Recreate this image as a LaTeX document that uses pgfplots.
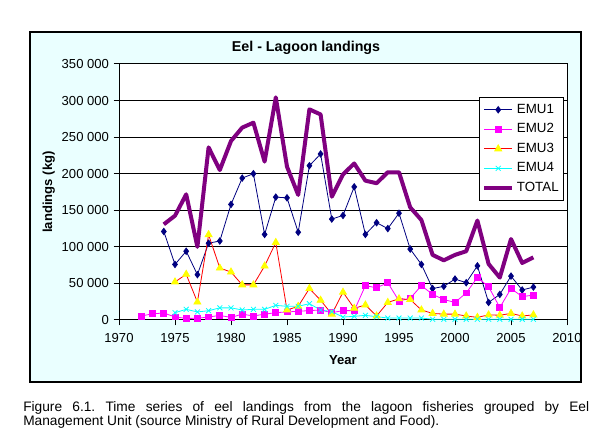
\documentclass[border=0pt]{standalone}
\usepackage{fontspec}
\setmainfont{Liberation Sans}
\usepackage{pgfplots}
\pgfplotsset{compat=1.18}
\definecolor{bgc}{RGB}{234,255,255}
\definecolor{navyc}{RGB}{0,0,128}
\definecolor{purp}{RGB}{128,0,128}
\definecolor{magc}{RGB}{255,0,255}
\definecolor{cyanc}{RGB}{0,255,255}
\definecolor{yelc}{RGB}{255,255,0}

\pgfplotstableread{
year val
1974 121000
1975 76000
1976 94000
1977 62000
1978 105000
1979 108000
1980 158000
1981 194000
1982 200000
1983 117000
1984 168000
1985 167000
1986 120000
1987 211000
1988 227000
1989 138000
1990 143000
1991 182000
1992 117000
1993 133000
1994 125000
1995 146000
1996 97000
1997 76000
1998 43000
1999 46000
2000 56000
2001 51000
2002 74000
2003 24000
2004 35000
2005 60000
2006 41000
2007 45000
}\emuone

\pgfplotstableread{
year val
1972 5500
1973 8500
1974 9500
1975 4200
1976 2200
1977 2300
1978 4200
1979 6200
1980 3500
1981 8000
1982 5500
1983 8000
1984 10000
1985 11000
1986 12000
1987 12800
1988 13700
1989 10000
1990 12800
1991 12800
1992 47000
1993 44000
1994 51000
1995 26000
1996 29600
1997 47000
1998 35000
1999 28000
2000 24000
2001 37000
2002 58000
2003 45600
2004 17000
2005 43000
2006 32000
2007 34000
}\emutwo

\pgfplotstableread{
year val
1975 52000
1976 62500
1977 24500
1978 116700
1979 71000
1980 65600
1981 48000
1982 48000
1983 73800
1984 106000
1985 13700
1986 18700
1987 43000
1988 27000
1989 8000
1990 38000
1991 16000
1992 20500
1993 5500
1994 24000
1995 29000
1996 28000
1997 13700
1998 9000
1999 8000
2000 8000
2001 5500
2002 3600
2003 7000
2004 6500
2005 9000
2006 5500
2007 7000
}\emuthree

\pgfplotstableread{
year val
1975 10000
1976 14600
1977 11000
1978 12700
1979 16600
1980 16600
1981 13700
1982 14600
1983 14600
1984 20000
1985 18700
1986 18700
1987 22300
1988 13700
1989 11400
1990 4000
1991 5000
1992 6400
1993 4500
1994 2700
1995 2700
1996 2700
1997 2700
1998 1000
1999 1000
2000 1000
2001 1000
2002 1000
2003 1000
2004 1000
2005 1000
2006 1000
2007 1000
}\emufour

\pgfplotstableread{
year val
1974 130800
1975 142600
1976 171800
1977 100000
1978 236000
1979 205000
1980 244700
1981 263000
1982 269800
1983 216500
1984 304400
1985 209600
1986 171000
1987 288000
1988 281000
1989 168600
1990 199000
1991 214000
1992 190500
1993 187000
1994 202000
1995 202000
1996 154000
1997 136700
1998 89000
1999 81600
2000 89000
2001 94000
2002 136000
2003 76600
2004 58000
2005 110700
2006 78000
2007 85700
}\total

\begin{document}
\frenchspacing
\begin{tikzpicture}[x=0.75pt,y=0.75pt]
\useasboundingbox (0,0) rectangle (608,440);
\fill[white] (0,0) rectangle (608,440);
\draw[black, line width=0.8pt, fill=bgc] (30,58) rectangle (581,408);
\begin{axis}[
  at={(89.25pt,90pt)}, anchor=south west,
  scale only axis, width=336pt, height=192pt,
  xmin=1970, xmax=2010, ymin=0, ymax=350000,
  xtick={1970,1975,...,2010}, ytick={0,50000,...,350000},
  axis background/.style={fill=white},
  axis line style={black, line width=0.75pt},
  ymajorgrids, major grid style={black, line width=0.75pt},
  tick align=outside, xtick pos=bottom, ytick pos=left,
  major tick length=4pt,
  tick style={black, line width=0.75pt},
  scaled y ticks=false,
  ticklabel style={font=\fontsize{9.8}{11}\selectfont},
  /pgf/number format/assume math mode=true,
  xticklabel style={/pgf/number format/1000 sep={}, yshift=-2.5pt},
  yticklabel style={/pgf/number format/1000 sep={\ }, /pgf/number format/fixed},
  legend style={at={(0.8036,0.871)}, anchor=north west, draw=black, fill=white,
    line width=0.75pt, font=\fontsize{10}{12}\selectfont, row sep=2.2pt,
    inner xsep=2pt, inner ysep=3pt},
  legend cell align=left,
  legend image code/.code={\draw[mark repeat=2,mark phase=2,#1] plot coordinates {(0cm,0cm) (0.37cm,0cm) (0.74cm,0cm)};},
]
\addplot[navyc, line width=0.6pt, mark=diamond*, mark size=2.4pt, mark options={fill=navyc, draw=navyc}] table[x=year,y=val] {\emuone};
\addlegendentry{EMU1}
\addplot[magc, line width=0.6pt, mark=square*, mark size=2.2pt, mark options={fill=magc, draw=magc}] table[x=year,y=val] {\emutwo};
\addlegendentry{EMU2}
\addplot[red, line width=0.6pt, mark=triangle*, mark size=3pt, mark options={fill=yelc, draw=yelc}] table[x=year,y=val] {\emuthree};
\addlegendentry{EMU3}
\addplot[cyanc, line width=0.6pt, mark=x, mark size=2.6pt, mark options={draw=cyanc, line width=0.6pt}] table[x=year,y=val] {\emufour};
\addlegendentry{EMU4}
\addplot[purp, line width=3pt, no marks, line join=round] table[x=year,y=val] {\total};
\addlegendentry{TOTAL}
\end{axis}
\node[font=\bfseries\fontsize{10.7}{12}\selectfont, anchor=base] at (306,388) {Eel - Lagoon landings};
\node[font=\bfseries\fontsize{9.8}{11}\selectfont, anchor=base] at (343,75) {Year};
\node[font=\bfseries\fontsize{9.8}{11}\selectfont, anchor=base, rotate=90] at (52,248) {landings (kg)};
\node[anchor=north west, inner sep=0pt, font=\fontsize{10.3}{10.6}\selectfont, text width=424.5pt, align=justify] at (23,39)
 {\frenchspacing Figure 6.1. Time series of eel landings from the lagoon fisheries grouped by Eel\linebreak Management Unit (source Ministry of Rural Development and Food).};
\end{tikzpicture}
\end{document}
